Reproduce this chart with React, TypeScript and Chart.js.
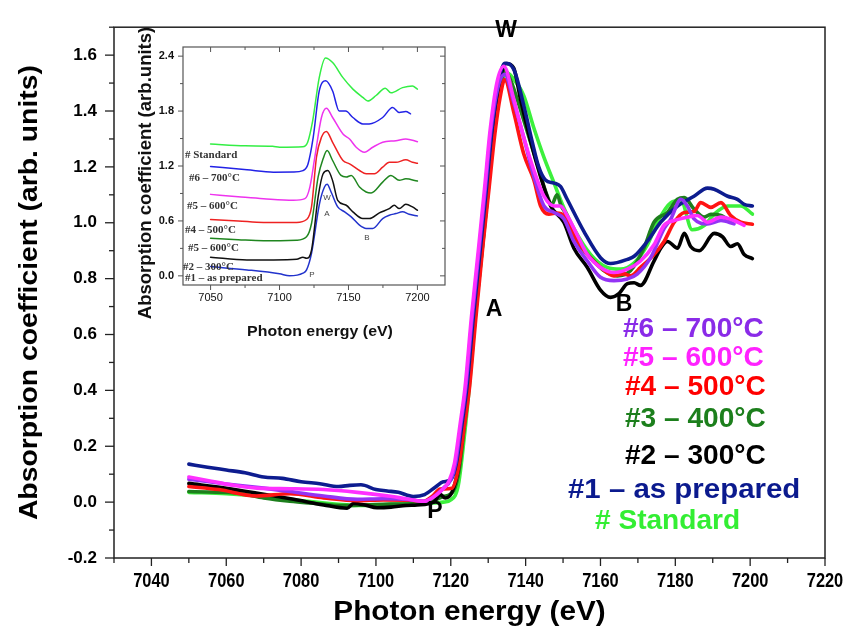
import React, { useEffect, useRef } from 'react';
import { Chart, registerables } from 'chart.js';

Chart.register(...registerables);

type Pair = [number, number];

// ---------- main panel: XANES spectra (energy eV, absorption) ----------
const standard: Pair[] = [[7050,0.035],[7060,0.03],[7070,0.02],[7080,0.005],[7090,-0.008],[7095,-0.012],[7100,-0.01],[7105,-0.008],[7110,-0.005],[7115,-0.003],[7118,0.0],[7120,0.008],[7122,0.06],[7123.5,0.22],[7125,0.42],[7126.5,0.66],[7128.5,0.92],[7130,1.12],[7131.5,1.32],[7133,1.46],[7135,1.537],[7136.5,1.52],[7139.5,1.455],[7142.2,1.339],[7144.9,1.234],[7147.6,1.142],[7150,1.06],[7152.9,0.979],[7157.4,0.886],[7161.8,0.84],[7165.4,0.834],[7169,0.857],[7172.5,0.92],[7175.2,1.002],[7178.8,1.072],[7181.5,1.08],[7184.5,0.975],[7187.7,0.99],[7190.4,1.031],[7194,1.06],[7197.5,1.06],[7200.6,1.031]];
const sample1: Pair[] = [[7050,0.136],[7055,0.125],[7060,0.115],[7065,0.105],[7070,0.09],[7075,0.085],[7080,0.073],[7085,0.066],[7090,0.056],[7093,0.06],[7096,0.062],[7100,0.045],[7103,0.04],[7106,0.035],[7110,0.02],[7113,0.027],[7116,0.055],[7118,0.073],[7120,0.08],[7121.5,0.14],[7123,0.28],[7124.3,0.41],[7126,0.66],[7128,0.92],[7129.5,1.12],[7131,1.33],[7132.8,1.5],[7134.4,1.571],[7136.8,1.55],[7139.5,1.42],[7141.7,1.293],[7143.5,1.2],[7145.3,1.153],[7147.6,1.142],[7149.3,1.13],[7151.1,1.084],[7155.6,0.968],[7160,0.875],[7162.7,0.854],[7167.2,0.869],[7169,0.88],[7172.5,0.933],[7176.1,1.002],[7180.6,1.06],[7185,1.095],[7188.6,1.124],[7190.4,1.12],[7194,1.095],[7196.6,1.084],[7198.4,1.066],[7200.6,1.06]];
const sample2: Pair[] = [[7050,0.067],[7060,0.05],[7068,0.033],[7078,0.01],[7086,-0.01],[7092.3,-0.022],[7094,-0.005],[7097,-0.01],[7100.3,-0.02],[7104,-0.018],[7108,-0.012],[7111,-0.01],[7115.4,0.0],[7117.2,0.027],[7118.5,0.015],[7120.3,0.035],[7122,0.12],[7123.3,0.26],[7124.6,0.41],[7126.3,0.66],[7128.3,0.92],[7129.8,1.12],[7131.3,1.33],[7133,1.5],[7134.8,1.57],[7136.8,1.554],[7138.6,1.444],[7141.3,1.293],[7144,1.165],[7146.7,1.06],[7150.2,1.002],[7152.9,0.909],[7156.5,0.84],[7160,0.759],[7162.7,0.733],[7165,0.747],[7167.2,0.782],[7169,0.785],[7170.7,0.776],[7174.3,0.863],[7176.1,0.909],[7177.9,0.933],[7180.6,0.909],[7182.4,0.962],[7184.1,0.915],[7186.4,0.9],[7190.4,0.962],[7192.6,0.95],[7194.8,0.915],[7196.6,0.925],[7198.4,0.886],[7200.6,0.872]];
const sample3: Pair[] = [[7050,0.038],[7055,0.036],[7062.8,0.033],[7070,0.015],[7077,0.003],[7084,-0.005],[7090.5,-0.012],[7097,-0.01],[7103.9,-0.007],[7112.8,-0.003],[7118,0.02],[7120.7,0.04],[7122.3,0.12],[7123.6,0.27],[7124.8,0.41],[7126.5,0.66],[7128.5,0.92],[7130,1.12],[7131.5,1.33],[7133,1.47],[7134.4,1.545],[7136,1.51],[7137.7,1.444],[7140.4,1.328],[7143.1,1.211],[7145.8,1.095],[7147,1.066],[7148.4,1.1],[7149.5,1.06],[7151.1,1.026],[7153.8,0.933],[7157.4,0.875],[7161,0.828],[7164.5,0.81],[7168,0.828],[7171.6,0.909],[7174.3,1.002],[7177.9,1.037],[7180.6,1.084],[7182.4,1.09],[7185,1.049],[7187.7,1.02],[7189.5,1.03],[7192.2,1.026],[7194.8,1.002]];
const sample4: Pair[] = [[7050,0.056],[7058,0.045],[7068,0.022],[7077,0.03],[7086,0.015],[7095,0.005],[7102,0.008],[7109.4,0.007],[7112.8,0.003],[7115,0.02],[7117.2,0.047],[7120.3,0.05],[7122,0.12],[7123.5,0.26],[7125,0.41],[7126.7,0.66],[7128.6,0.92],[7130.2,1.12],[7131.8,1.32],[7133.2,1.45],[7134.4,1.513],[7136.8,1.397],[7139.5,1.246],[7142.2,1.153],[7144,1.06],[7146.2,1.031],[7148.4,1.035],[7150.2,1.026],[7152.9,0.956],[7156.5,0.886],[7160,0.84],[7163.6,0.81],[7166.3,0.817],[7168,0.81],[7170.7,0.84],[7174.3,0.886],[7177,0.933],[7179.7,1.002],[7182.4,1.037],[7185,1.04],[7186.8,1.072],[7189.5,1.055],[7192.2,1.072],[7194.8,1.026],[7197.5,1.002],[7200.6,0.995]];
const sample5: Pair[] = [[7050,0.09],[7056,0.075],[7062,0.06],[7068.2,0.05],[7077,0.048],[7086,0.045],[7095,0.035],[7103.9,0.021],[7108,0.012],[7112.8,0.003],[7115,0.015],[7117.2,0.038],[7119.5,0.075],[7121,0.14],[7122.5,0.28],[7123.8,0.41],[7125.5,0.66],[7127.5,0.92],[7129,1.12],[7130.5,1.33],[7132.3,1.5],[7134.2,1.56],[7136.8,1.444],[7139.5,1.305],[7142.2,1.188],[7144.9,1.095],[7147.6,1.06],[7149.3,1.06],[7151.1,1.026],[7153.8,0.956],[7156.5,0.886],[7160,0.84],[7163.6,0.822],[7167.2,0.834],[7170.7,0.863],[7174.3,0.921],[7177,0.991],[7179.7,1.008],[7183.2,1.02],[7185.9,1.026],[7188.6,1.002],[7192.2,1.02],[7195.7,1.008],[7198.4,0.991]];
const sample6: Pair[] = [[7050,0.082],[7060,0.065],[7070,0.05],[7077,0.038],[7086,0.022],[7095,0.01],[7102,0.012],[7108.5,0.01],[7112.8,0.003],[7115.5,0.02],[7118,0.05],[7120,0.08],[7121.3,0.14],[7122.7,0.28],[7124,0.41],[7125.7,0.66],[7127.7,0.92],[7129.2,1.12],[7130.7,1.33],[7132.5,1.48],[7134.4,1.531],[7136.8,1.432],[7139.5,1.305],[7142.2,1.165],[7144.9,1.06],[7147.6,1.037],[7150.2,1.014],[7152.9,0.933],[7156.5,0.863],[7160,0.805],[7163.6,0.793],[7167.2,0.799],[7169.8,0.816],[7173.4,0.875],[7177,0.979],[7178.8,1.014],[7181.5,1.084],[7183.2,1.06],[7185,1.014],[7188.6,0.996],[7192.2,1.008],[7195.7,0.996]];

const mainXTicks = [7040, 7060, 7080, 7100, 7120, 7140, 7160, 7180, 7200, 7220];
const mainXMinor = [7030, 7050, 7070, 7090, 7110, 7130, 7150, 7170, 7190, 7210];
const mainYTicks = [-0.2, 0.0, 0.2, 0.4, 0.6, 0.8, 1.0, 1.2, 1.4, 1.6];
const mainYMinor = [-0.1, 0.1, 0.3, 0.5, 0.7, 0.9, 1.1, 1.3, 1.5, 1.7];

const legendLabels = ['#6 \u2013 700°C', '#5 \u2013 600°C', '#4 \u2013 500°C', '#3 \u2013 400°C', '#2 \u2013 300°C', '#1 \u2013 as prepared', '# Standard'];
const legendColors = ['#8a2be8', '#ff22ff', '#ff0000', '#1c7f1c', '#000000', '#0b1a8e', '#33ee33'];

// ---------- inset panel: offset spectra ----------
const insStandard: Pair[] = [[7050,1.44],[7075,1.42],[7095,1.415],[7100,1.405],[7116.8,1.41],[7120.4,1.46],[7124,1.69],[7128.8,2.165],[7133.3,2.38],[7138.5,2.33],[7146,2.165],[7153.2,2.04],[7160.4,1.95],[7164,1.91],[7170,1.97],[7176.7,2.05],[7180.8,2.0],[7189.2,2.056],[7196.4,2.074],[7200,2.04]];
const ins700: Pair[] = [[7050,1.195],[7076.4,1.158],[7095.6,1.133],[7110,1.135],[7117,1.15],[7120.6,1.22],[7124.4,1.51],[7128.8,2.02],[7133.5,2.13],[7138.5,2.02],[7143.3,1.8],[7148,1.8],[7153.2,1.73],[7160.4,1.66],[7165,1.66],[7174.8,1.73],[7182,1.84],[7186.8,1.785],[7191.6,1.795],[7195,1.77]];
const ins600: Pair[] = [[7050,0.89],[7070,0.865],[7088.4,0.843],[7110,0.825],[7118.4,0.843],[7122,0.97],[7125.6,1.296],[7130.4,1.73],[7134,1.83],[7138.5,1.73],[7146,1.55],[7150.8,1.495],[7155.6,1.405],[7161.6,1.35],[7167.6,1.405],[7174.8,1.46],[7184.4,1.477],[7191.6,1.495],[7200,1.466]];
const ins500: Pair[] = [[7050,0.615],[7070,0.6],[7088.4,0.583],[7112.4,0.583],[7119.6,0.615],[7123.2,0.753],[7126.8,1.296],[7130.4,1.513],[7134,1.578],[7138.5,1.459],[7146,1.26],[7150.8,1.224],[7158,1.151],[7162.8,1.115],[7168.8,1.115],[7174.8,1.187],[7179.6,1.24],[7184.4,1.24],[7191.6,1.267],[7196.4,1.24],[7200,1.23]];
const ins400: Pair[] = [[7050,0.41],[7070,0.395],[7088.4,0.384],[7112.4,0.39],[7119.6,0.427],[7123.2,0.572],[7128,1.08],[7131.6,1.278],[7134.5,1.368],[7138.5,1.26],[7144.6,1.097],[7148.4,1.08],[7152,1.097],[7158,0.97],[7162.8,0.916],[7166.4,0.905],[7174.8,1.024],[7180.8,1.097],[7186.8,1.043],[7191.6,1.06],[7200,1.035]];
const ins300: Pair[] = [[7050,0.203],[7076.4,0.174],[7095.6,0.174],[7112.4,0.181],[7117,0.203],[7119.6,0.192],[7123.2,0.28],[7128,0.862],[7131.6,1.115],[7135,1.15],[7138.5,1.04],[7142.2,0.825],[7148.4,0.771],[7153.2,0.699],[7160.4,0.626],[7165.2,0.626],[7172.4,0.688],[7179.6,0.735],[7183.2,0.771],[7186.8,0.735],[7191.6,0.782],[7196.4,0.753],[7200,0.717]];
const insPrepared: Pair[] = [[7050,0.101],[7076.4,0.065],[7100,0.022],[7107.2,0.0],[7117,0.029],[7119.6,0.065],[7123.2,0.246],[7129,0.789],[7132.6,0.97],[7134.5,1.0],[7137.4,0.916],[7142.2,0.753],[7147.2,0.699],[7152,0.644],[7158,0.554],[7162.8,0.518],[7167.6,0.518],[7174.8,0.626],[7179.6,0.662],[7184.4,0.68],[7189.2,0.699],[7194,0.673],[7200,0.655]];

const insXTicks = [7050, 7100, 7150, 7200];
const insXMinor = [7075, 7125, 7175];
const insYTicks = [0.0, 0.6, 1.2, 1.8, 2.4];
const insYMinor = [0.3, 0.9, 1.5, 2.1];
const insLabels = ['# Standard', '#6 \u2013 700°C', '#5 \u2013 600°C', '#4 \u2013 500°C', '#5 \u2013 600°C', '#2 \u2013 300°C', '#1 \u2013 as prepared'];

const SANS = "'Liberation Sans', Arial, sans-serif";
const SERIF = "'Liberation Serif', 'Times New Roman', serif";

const toPts = (p: Pair[]) => p.map(([x, y]) => ({ x, y }));

function put(
  ctx: CanvasRenderingContext2D, s: string, x: number, y: number, font: string, color: string,
  align: CanvasTextAlign = 'center', sx = 1, angle = 0,
) {
  ctx.save();
  ctx.translate(x, y);
  if (angle) ctx.rotate(angle);
  ctx.scale(sx, 1);
  ctx.font = font;
  ctx.fillStyle = color;
  ctx.textAlign = align;
  ctx.textBaseline = 'middle';
  ctx.fillText(s, 0, 0);
  ctx.restore();
}

function seg(ctx: CanvasRenderingContext2D, x1: number, y1: number, x2: number, y2: number) {
  ctx.beginPath();
  ctx.moveTo(x1, y1);
  ctx.lineTo(x2, y2);
  ctx.stroke();
}

const mainDecor = {
  id: 'mainDecor',
  afterDraw(chart: any) {
    const { ctx, chartArea: ca, scales } = chart;
    const xs = scales.x;
    const ys = scales.y;
    ctx.save();
    ctx.strokeStyle = '#222';
    ctx.lineWidth = 1.5;
    ctx.strokeRect(ca.left, ca.top, ca.right - ca.left, ca.bottom - ca.top);
    ctx.lineWidth = 1.3;
    mainXTicks.forEach((v) => { const p = xs.getPixelForValue(v); seg(ctx, p, ca.bottom, p, ca.bottom + 8); });
    mainXMinor.forEach((v) => { const p = xs.getPixelForValue(v); seg(ctx, p, ca.bottom, p, ca.bottom + 5); });
    mainYTicks.forEach((v) => { const p = ys.getPixelForValue(v); seg(ctx, ca.left - 9, p, ca.left, p); });
    mainYMinor.forEach((v) => { const p = ys.getPixelForValue(v); seg(ctx, ca.left - 5, p, ca.left, p); });
    ctx.restore();

    // energy tick labels, set in a condensed bold face
    xs.ticks.forEach((t: any) => {
      put(ctx, String(t.value), xs.getPixelForValue(t.value), ca.bottom + 23, `bold 20px ${SANS}`, '#000', 'center', 0.82);
    });

    // axis titles
    put(ctx, 'Photon energy (eV)', (ca.left + ca.right) / 2, 613, `bold 27px ${SANS}`, '#000', 'center', 1.1);
    put(ctx, 'Absorption coefficient (arb. units)', 30, (ca.top + ca.bottom) / 2, `bold 26px ${SANS}`, '#000', 'center', 1.09, -Math.PI / 2);

    // spectral feature markers
    const f = `bold 23px ${SANS}`;
    put(ctx, 'W', 506, 31, f, '#000');
    put(ctx, 'A', 494, 310, f, '#000');
    put(ctx, 'B', 624, 305, f, '#000');
    put(ctx, 'P', 435, 512, f, '#000');

    // sample key
    const lx = [623, 623, 625, 625, 625, 568, 595];
    const ly = [330, 359, 388, 420, 457, 491, 522];
    legendLabels.forEach((t, i) => put(ctx, t, lx[i], ly[i], `bold 27px ${SANS}`, legendColors[i], 'left', i === 5 ? 1.09 : 1.04));
  },
};

const insetDecor = {
  id: 'insetDecor',
  afterDraw(chart: any) {
    const { ctx, chartArea: ca, scales } = chart;
    const xs = scales.x;
    const ys = scales.y;
    ctx.save();
    ctx.strokeStyle = '#555';
    ctx.lineWidth = 1.2;
    ctx.strokeRect(ca.left, ca.top, ca.right - ca.left, ca.bottom - ca.top);
    ctx.lineWidth = 1;
    insXTicks.forEach((v) => {
      const p = xs.getPixelForValue(v);
      seg(ctx, p, ca.bottom, p, ca.bottom + 5);
      seg(ctx, p, ca.top, p, ca.top + 5);
    });
    insXMinor.forEach((v) => {
      const p = xs.getPixelForValue(v);
      seg(ctx, p, ca.bottom, p, ca.bottom + 3);
      seg(ctx, p, ca.top, p, ca.top + 3);
    });
    insYTicks.forEach((v) => {
      const p = ys.getPixelForValue(v);
      seg(ctx, ca.left - 5, p, ca.left, p);
      seg(ctx, ca.right - 5, p, ca.right, p);
    });
    insYMinor.forEach((v) => {
      const p = ys.getPixelForValue(v);
      seg(ctx, ca.left - 3, p, ca.left, p);
      seg(ctx, ca.right - 3, p, ca.right, p);
    });
    ctx.restore();

    put(ctx, 'Photon energy (eV)', 190, 317, `bold 15px ${SANS}`, '#111', 'center', 1.06);
    put(ctx, 'Absorption coefficient (arb.units)', 16.5, 158, `bold 18px ${SANS}`, '#111', 'center', 1.03, -Math.PI / 2);

    const lx = [55, 59, 57, 55, 58, 53, 55];
    const ly = [140, 163, 191, 215, 233, 252, 263];
    insLabels.forEach((t, i) => put(ctx, t, lx[i], ly[i], `bold 11px ${SERIF}`, '#333', 'left'));

    const s = `8px ${SANS}`;
    put(ctx, 'W', 197, 183, s, '#444');
    put(ctx, 'A', 197, 199, s, '#444');
    put(ctx, 'B', 237, 223, s, '#444');
    put(ctx, 'P', 182, 260, s, '#444');
  },
};

function lineSet(data: Pair[], color: string, width: number, order: number) {
  return {
    data: toPts(data),
    borderColor: color,
    backgroundColor: color,
    borderWidth: width,
    pointRadius: 0,
    cubicInterpolationMode: 'monotone' as const,
    borderJoinStyle: 'round' as const,
    borderCapStyle: 'round' as const,
    fill: false,
    order,
  };
}

export default function App() {
  const mainRef = useRef<HTMLCanvasElement>(null);
  const insetRef = useRef<HTMLCanvasElement>(null);

  useEffect(() => {
    const main = new Chart(mainRef.current as HTMLCanvasElement, {
      type: 'line',
      data: {
        datasets: [
          lineSet(sample5, '#ff30ff', 3.6, 0),
          lineSet(sample6, '#9433f5', 3.6, 1),
          lineSet(sample1, '#0d1c8f', 3.6, 2),
          lineSet(sample4, '#ff1414', 3.6, 3),
          lineSet(sample2, '#000000', 3.6, 4),
          lineSet(sample3, '#1d7f1d', 3.6, 5),
          lineSet(standard, '#3cf03c', 3.6, 6),
        ],
      },
      options: {
        animation: false,
        responsive: false,
        maintainAspectRatio: false,
        layout: { padding: { top: 13, right: 23, left: 0, bottom: 0 } },
        plugins: { legend: { display: false }, tooltip: { enabled: false } },
        scales: {
          x: {
            type: 'linear',
            min: 7030,
            max: 7220,
            afterBuildTicks: (s: any) => { s.ticks = mainXTicks.map((value) => ({ value })); },
            afterFit: (s: any) => { s.height = 74; },
            grid: { display: false, drawTicks: false },
            border: { display: false },
            ticks: { display: false },
          },
          y: {
            type: 'linear',
            min: -0.2,
            max: 1.7,
            afterBuildTicks: (s: any) => { s.ticks = mainYTicks.map((value) => ({ value })); },
            afterFit: (s: any) => { s.width = 114; },
            grid: { display: false, drawTicks: false },
            border: { display: false },
            ticks: {
              padding: 17,
              color: '#000',
              font: { family: SANS, size: 17, weight: 'bold' },
              callback: (v: any) => Number(v).toFixed(1),
            },
          },
        },
      },
      plugins: [mainDecor],
    } as any);

    const inset = new Chart(insetRef.current as HTMLCanvasElement, {
      type: 'line',
      data: {
        datasets: [
          lineSet(insStandard, '#33ee44', 1.5, 0),
          lineSet(ins700, '#2222e6', 1.5, 1),
          lineSet(ins600, '#ee33ee', 1.5, 2),
          lineSet(ins500, '#ee2222', 1.5, 3),
          lineSet(ins400, '#1f861f', 1.5, 4),
          lineSet(ins300, '#111111', 1.5, 5),
          lineSet(insPrepared, '#2233cc', 1.5, 6),
        ],
      },
      options: {
        animation: false,
        responsive: false,
        maintainAspectRatio: false,
        layout: { padding: { top: 32, right: 5, left: 0, bottom: 0 } },
        plugins: { legend: { display: false }, tooltip: { enabled: false } },
        scales: {
          x: {
            type: 'linear',
            min: 7030,
            max: 7220,
            afterBuildTicks: (s: any) => { s.ticks = insXTicks.map((value) => ({ value })); },
            afterFit: (s: any) => { s.height = 60; },
            grid: { display: false, drawTicks: false },
            border: { display: false },
            ticks: {
              padding: 6,
              color: '#111',
              maxRotation: 0,
              autoSkip: false,
              font: { family: SANS, size: 11 },
              callback: (v: any) => String(v),
            },
          },
          y: {
            type: 'linear',
            min: -0.1,
            max: 2.5,
            afterBuildTicks: (s: any) => { s.ticks = insYTicks.map((value) => ({ value })); },
            afterFit: (s: any) => { s.width = 53; },
            grid: { display: false, drawTicks: false },
            border: { display: false },
            ticks: {
              padding: 9,
              color: '#111',
              font: { family: SANS, size: 11, weight: 'bold' },
              callback: (v: any) => Number(v).toFixed(1),
            },
          },
        },
      },
      plugins: [insetDecor],
    } as any);

    return () => {
      main.destroy();
      inset.destroy();
    };
  }, []);

  return (
    <div style={{ position: 'absolute', left: 0, top: 0, width: 848, height: 632, background: '#fff' }}>
      <canvas ref={mainRef} width={848} height={632} style={{ position: 'absolute', left: 0, top: 0, width: 848, height: 632 }} />
      <canvas ref={insetRef} width={320} height={330} style={{ position: 'absolute', left: 130, top: 15, width: 320, height: 330 }} />
    </div>
  );
}
